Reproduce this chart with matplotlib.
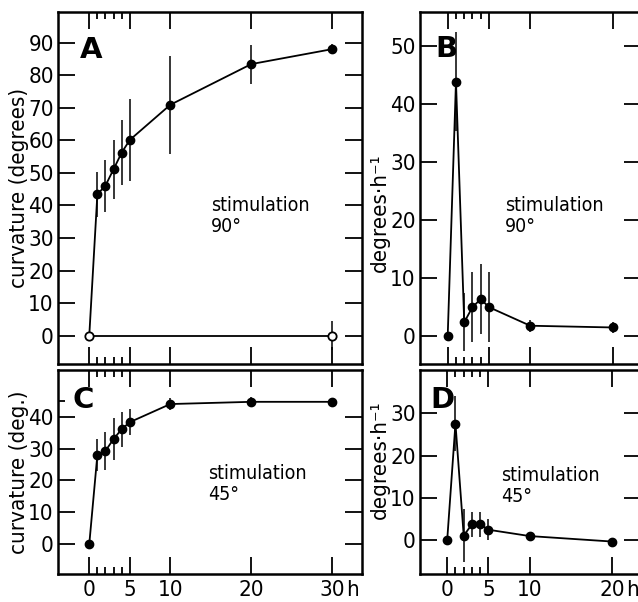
import matplotlib
matplotlib.use("Agg")
import matplotlib.pyplot as plt
from matplotlib.ticker import FixedLocator

plt.rcParams['font.family'] = ['DejaVu Sans']
plt.rcParams['font.stretch'] = 'condensed'

# ---------------- data ----------------
t_long = [0, 1, 2, 3, 4, 5, 10, 20, 30]
t_short = [0, 1, 2, 3, 4, 5, 10, 20]

A_mean = [0, 43.4, 46.1, 51.1, 56.2, 60.1, 70.9, 83.4, 88.0]
A_err = [0, 7, 8, 9, 10, 12.5, 15, 6, 1.5]
A_ctrl_t = [0, 30]
A_ctrl = [0, 0]
A_ctrl_err = [0, 4.5]

B_mean = [0, 43.8, 2.3, 4.9, 6.3, 4.9, 1.7, 1.4]
B_err = [0, 8.5, 5, 6, 6, 6, 1, 1]

C_mean = [0, 28.0, 29.3, 33.0, 36.1, 38.3, 44.0, 44.7, 44.7]
C_err = [0, 5, 6, 6.5, 5.5, 4, 2, 1.5, 0.5]

D_mean = [0, 27.6, 1.0, 3.7, 3.7, 2.4, 0.9, -0.4]
D_err = [0, 6.5, 6.3, 3, 3, 2.5, 1, 0.5]

x_major_long = [0, 5, 10, 20, 30]
x_major_short = [0, 5, 10, 20]
x_minor = [1, 2, 3, 4]

W, H = 638, 602
fig = plt.figure(figsize=(W / 100, H / 100), dpi=100)


def px_axes(l, t, r, b):
    return fig.add_axes([l / W, 1 - b / H, (r - l) / W, (b - t) / H])


axA = px_axes(58, 12, 362, 364)
axC = px_axes(58, 370, 362, 574)
axB = px_axes(420, 12, 641, 364)
axD = px_axes(420, 370, 641, 574)

TICK_FS = 16
ANN_FS = 14


def style(ax, xlim, ylim, xmaj, yticks, xlabels=None, yminor=None):
    ax.set_xlim(*xlim)
    ax.set_ylim(*ylim)
    for s in ax.spines.values():
        s.set_linewidth(1.8)
    ax.xaxis.set_major_locator(FixedLocator(xmaj))
    ax.xaxis.set_minor_locator(FixedLocator(x_minor))
    ax.yaxis.set_major_locator(FixedLocator(yticks))
    ax.yaxis.set_minor_locator(FixedLocator(yminor if yminor else []))
    ax.tick_params(which='both', direction='in', top=True, right=True,
                   width=1.3, labelsize=TICK_FS)
    ax.tick_params(which='major', length=12)
    ax.tick_params(which='minor', length=5)
    ax.tick_params(axis='y', which='minor', left=True, right=False)
    ax.tick_params(axis='y', pad=3)
    ax.tick_params(axis='x', pad=4)
    if xlabels is None:
        ax.tick_params(axis='x', labelbottom=False)
    else:
        ax.set_xticklabels(xlabels)


def series(ax, t, m, e, first_open=False):
    ax.plot(t, m, color='black', lw=1.3, zorder=2)
    ax.errorbar(t, m, yerr=e, fmt='none', ecolor='black', elinewidth=1.1,
                capsize=0, zorder=2)
    start = 1 if first_open else 0
    ax.plot(t[start:], m[start:], 'o', color='black', ms=6, zorder=3)


# Panel A
style(axA, (-3.86, 33.67), (-8.7, 99.4), x_major_long, list(range(0, 91, 10)))
series(axA, t_long, A_mean, A_err, first_open=True)
axA.plot(A_ctrl_t, A_ctrl, color='black', lw=1.3, zorder=2)
axA.errorbar(A_ctrl_t, A_ctrl, yerr=A_ctrl_err, fmt='none', ecolor='black',
             elinewidth=1.1, capsize=0, zorder=2)
axA.plot(A_ctrl_t, A_ctrl, 'o', mfc='white', mec='black', mew=1.3, ms=6, zorder=4)
axA.set_ylabel('curvature (degrees)', fontsize=TICK_FS)
axA.yaxis.set_label_coords(-0.097, 0.5)

# Panel C
style(axC, (-3.86, 33.67), (-9.4, 54.7), x_major_long, [0, 10, 20, 30, 40],
      xlabels=['0', '5', '10', '20', '30'], yminor=[45])
series(axC, t_long, C_mean, C_err)
axC.set_ylabel('curvature (deg.)', fontsize=TICK_FS)
axC.yaxis.set_label_coords(-0.097, 0.5)
axC.annotate('h', xy=(30, 0), xycoords=('data', 'axes fraction'),
             xytext=(10, -4), textcoords='offset points', fontsize=TICK_FS,
             ha='left', va='top')

# Panel B
style(axB, (-3.36, 23.43), (-4.9, 55.8), x_major_short, [0, 10, 20, 30, 40, 50])
series(axB, t_short, B_mean, B_err)
axB.set_ylabel('degrees·h⁻¹', fontsize=TICK_FS)
axB.yaxis.set_label_coords(-0.135, 0.43)

# Panel D
style(axD, (-3.3, 23.5), (-8.1, 40.3), x_major_short, [0, 10, 20, 30],
      xlabels=['0', '5', '10', '20'])
series(axD, t_short, D_mean, D_err)
axD.set_ylabel('degrees·h⁻¹', fontsize=TICK_FS)
axD.yaxis.set_label_coords(-0.135, 0.56)
axD.annotate('h', xy=(20, 0), xycoords=('data', 'axes fraction'),
             xytext=(10, -4), textcoords='offset points', fontsize=TICK_FS,
             ha='left', va='top')

# panel letters
for x, y, letter in [(80, 58, 'A'), (435, 57, 'B'), (73, 408, 'C'), (430, 408, 'D')]:
    fig.text(x / W, 1 - y / H, letter, fontsize=21, fontweight='bold',
             fontstretch='normal', ha='left', va='baseline')

# annotations
for x, y, s in [(211, 196, 'stimulation\n90°'), (505, 196, 'stimulation\n90°'),
                (208, 464, 'stimulation\n45°'), (501, 466, 'stimulation\n45°')]:
    fig.text(x / W, 1 - y / H, s, fontsize=ANN_FS, ha='left', va='top',
             linespacing=1.1)

fig.savefig('out.png', dpi=100)
